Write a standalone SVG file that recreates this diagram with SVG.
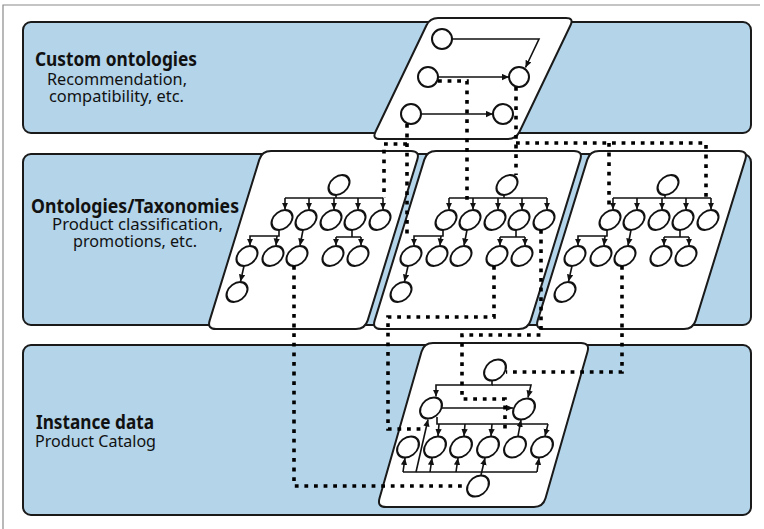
<svg xmlns="http://www.w3.org/2000/svg" xmlns:xlink="http://www.w3.org/1999/xlink" width="764" height="529" viewBox="0 0 764 529">
<style>
  .band{fill:#b3d4e9;stroke:#1a1a1a;stroke-width:2}
  .panel{fill:#ffffff;stroke:#1a1a1a;stroke-width:2}
  .node{fill:#ffffff;stroke:#111111;stroke-width:2}
  .edge{fill:none;stroke:#111111;stroke-width:1.6}
  .arr{fill:none;stroke:#111111;stroke-width:1.6;marker-end:url(#ah)}
  .dot{fill:none;stroke:#000000;stroke-width:3.6;stroke-dasharray:3.8 5.8}
  .title{font-family:"Noto Sans","Liberation Sans",sans-serif;font-weight:bold;font-size:20px;fill:#111}
  .sub{font-family:"Noto Sans","Liberation Sans",sans-serif;font-size:16.5px;fill:#111}
</style>
<defs>
  <marker id="ah" markerUnits="userSpaceOnUse" markerWidth="7" markerHeight="7" viewBox="0 0 10 10" refX="10" refY="5" orient="auto">
    <path d="M0,0.5 L10,5 L0,9.5 z" fill="#111"/>
  </marker>
  <g id="treeBody">
    <path class="edge" d="M285,198 H383"/>
    <path class="arr" d="M285,198 V209.5"/>
    <path class="arr" d="M309,198 V209.5"/>
    <path class="arr" d="M334,198 V209.5"/>
    <path class="arr" d="M358,198 V209.5"/>
    <path class="arr" d="M383,198 V209.5"/>
    <path class="arr" d="M279,230 V236 H250 V245.5"/>
    <path class="arr" d="M277,236 L276,245.5"/>
    <path class="arr" d="M303,230 L300,245.5"/>
    <path class="edge" d="M352,230 V237 M336,237 H361"/>
    <path class="arr" d="M336,237 V245.5"/>
    <path class="arr" d="M361,237 V245.5"/>
    <path class="arr" d="M244,266 L240.5,281.5"/>
    <circle class="node" r="10" transform="translate(282 220) skewX(-17.5)"/>
    <circle class="node" r="10" transform="translate(306 220) skewX(-17.5)"/>
    <circle class="node" r="10" transform="translate(331 220) skewX(-17.5)"/>
    <circle class="node" r="10" transform="translate(355 220) skewX(-17.5)"/>
    <circle class="node" r="10" transform="translate(380 220) skewX(-17.5)"/>
    <circle class="node" r="10" transform="translate(247 256) skewX(-17.5)"/>
    <circle class="node" r="10" transform="translate(273 256) skewX(-17.5)"/>
    <circle class="node" r="10" transform="translate(297 256) skewX(-17.5)"/>
    <circle class="node" r="10" transform="translate(333 256) skewX(-17.5)"/>
    <circle class="node" r="10" transform="translate(358 256) skewX(-17.5)"/>
    <circle class="node" r="10" transform="translate(237 292) skewX(-17.5)"/>
  </g>
</defs>

<path d="M3,529 V5 H760" fill="none" stroke="#8a8a8a" stroke-width="1.2"/>

<g id="band-custom">
  <rect class="band" x="23" y="22" width="728" height="111" rx="8"/>
  <text class="title" x="116" y="66" text-anchor="middle" textLength="162" lengthAdjust="spacingAndGlyphs">Custom ontologies</text>
  <text class="sub" x="117" y="85" text-anchor="middle" textLength="140" lengthAdjust="spacingAndGlyphs">Recommendation,</text>
  <text class="sub" x="116.5" y="102" text-anchor="middle" textLength="135" lengthAdjust="spacingAndGlyphs">compatibility, etc.</text>
</g>
<g id="band-ontologies">
  <rect class="band" x="23" y="154" width="728" height="171" rx="8"/>
  <text class="title" x="135" y="213" text-anchor="middle" textLength="208" lengthAdjust="spacingAndGlyphs">Ontologies/Taxonomies</text>
  <text class="sub" x="137.5" y="230" text-anchor="middle" textLength="171" lengthAdjust="spacingAndGlyphs">Product classification,</text>
  <text class="sub" x="135" y="247" text-anchor="middle" textLength="124" lengthAdjust="spacingAndGlyphs">promotions, etc.</text>
</g>
<g id="band-instance">
  <rect class="band" x="23" y="345" width="728" height="170" rx="8"/>
  <text class="title" x="36" y="429" textLength="118" lengthAdjust="spacingAndGlyphs">Instance data</text>
  <text class="sub" x="35" y="447" textLength="121" lengthAdjust="spacingAndGlyphs">Product Catalog</text>
</g>

<g id="panel-custom">
  <path class="panel" d="M438,18 H566 Q574,18 570.5,25.2 L519.5,131.8 Q516,139 508,139 H380 Q372,139 375.5,131.8 L426.5,25.2 Q430,18 438,18 Z"/>
  <path class="arr" d="M452,39 H539 L525.5,67.5"/>
  <path class="arr" d="M438,77 H509"/>
  <path class="arr" d="M421,114 H493"/>
  <g id="c1"><circle class="node" cx="442" cy="39" r="10"/></g>
  <g id="c2"><circle class="node" cx="428" cy="77" r="10"/></g>
  <g id="c3"><circle class="node" cx="519" cy="77" r="10"/></g>
  <g id="c4"><circle class="node" cx="411" cy="114" r="10"/></g>
  <g id="c5"><circle class="node" cx="503" cy="114" r="10"/></g>
</g>

<g id="panel-taxonomy-A">
  <path class="panel" d="M271,151 H411 Q420,151 417.3,159.6 L367.7,320.4 Q365,329 356,329 H216 Q207,329 209.7,320.4 L259.3,159.6 Q262,151 271,151 Z"/>
  <use xlink:href="#treeBody"/>
  <path class="edge" d="M336,195 V198"/>
  <circle class="node" r="10" transform="translate(339 185) skewX(-17.5)"/>
</g>
<g id="panel-taxonomy-B">
  <path class="panel" d="M436,151 H574 Q583,151 580.3,159.6 L530.7,320.4 Q528,329 519,329 H381 Q372,329 374.7,320.4 L424.3,159.6 Q427,151 436,151 Z"/>
  <use xlink:href="#treeBody" x="164"/>
  <path class="edge" d="M504,195 V198"/>
  <circle class="node" r="10" transform="translate(507 185) skewX(-17.5)"/>
</g>
<g id="panel-taxonomy-C">
  <path class="panel" d="M599,151 H739 Q748,151 745.3,159.6 L695.7,320.4 Q693,329 684,329 H544 Q535,329 537.7,320.4 L587.3,159.6 Q590,151 599,151 Z"/>
  <use xlink:href="#treeBody" x="328"/>
  <path class="edge" d="M665,195 V198"/>
  <circle class="node" r="10" transform="translate(668 185) skewX(-17.5)"/>
</g>

<g id="panel-instance">
  <path class="panel" d="M433,343 H581 Q590,343 587.5,351.7 L545.5,498.3 Q543,507 534,507 H386 Q377,507 379.5,498.3 L421.5,351.7 Q424,343 433,343 Z"/>
  <path class="arr" d="M492,380 V385 H436 V396.5"/>
  <path class="arr" d="M492,385 H531 L528,397.5"/>
  <path class="arr" d="M442,408 H513"/>
  <path class="edge" d="M437,417 V424 H548"/>
  <path class="arr" d="M439,424 L438,436"/>
  <path class="arr" d="M465,424 L464,436"/>
  <path class="arr" d="M492,424 L491,436"/>
  <path class="arr" d="M548,424 L545,436"/>
  <path class="arr" d="M518,436 L521,420"/>
  <path class="edge" d="M403,472 H537"/>
  <path class="arr" d="M403,472 L405,458"/>
  <path class="arr" d="M430,472 L432,458"/>
  <path class="arr" d="M456,472 L458,458"/>
  <path class="arr" d="M537,472 L539,458"/>
  <path class="arr" d="M481,475 L485,458"/>
  <path class="arr" d="M416,472 L428,419.5"/>
  <g id="i-top"><circle class="node" r="10.5" transform="translate(495 370) skewX(-16)"/></g>
  <g id="i-left"><circle class="node" r="10.5" transform="translate(431 408) skewX(-16)"/></g>
  <g id="i-right"><circle class="node" r="10.5" transform="translate(524 409) skewX(-16)"/></g>
  <g id="i-row">
    <circle class="node" r="10.5" transform="translate(408 447) skewX(-16)"/>
    <circle class="node" r="10.5" transform="translate(435 447) skewX(-16)"/>
    <circle class="node" r="10.5" transform="translate(461 447) skewX(-16)"/>
    <circle class="node" r="10.5" transform="translate(488 447) skewX(-16)"/>
    <circle class="node" r="10.5" transform="translate(515 447) skewX(-16)"/>
    <circle class="node" r="10.5" transform="translate(542 447) skewX(-16)"/>
  </g>
  <g id="i-bottom"><circle class="node" r="10.5" transform="translate(478 486) skewX(-16)"/></g>
</g>

<g id="connectors">
  <path class="dot" d="M294,266 V486 H467"/>
  <path class="dot" d="M494,266 V317 H388 V429 H425"/>
  <path class="dot" d="M541,230 V335 H462 V399 H505 V433"/>
  <path class="dot" d="M622,266 V372 H506"/>
  <path class="dot" d="M407,124 V236"/>
  <path class="dot" d="M407,144 H384 V198"/>
  <path class="dot" d="M438,81 H467 V200"/>
  <path class="dot" d="M516,87 V175"/>
  <path class="dot" d="M516,143 H706 V200"/>
  <path class="dot" d="M609,143 V205"/>
</g>
</svg>
